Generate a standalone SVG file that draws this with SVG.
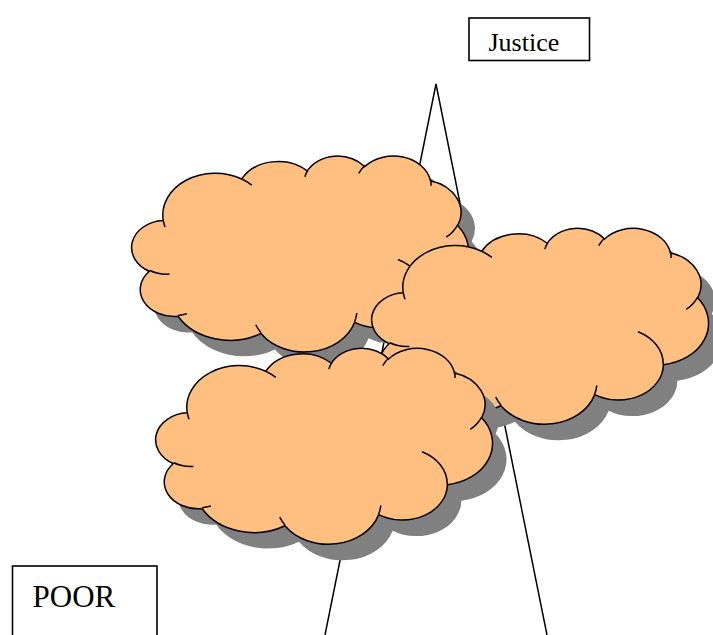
<svg xmlns="http://www.w3.org/2000/svg" xmlns:xlink="http://www.w3.org/1999/xlink" width="713" height="635" viewBox="0 0 713 635">
<style>
  .box { fill: #ffffff; stroke: #000000; stroke-width: 1.6; }
  .label { font-family: "Liberation Serif", "Times New Roman", serif; fill: #000000; }
  .cloud { fill: #FFBF80; stroke: #000000; stroke-width: 1.5; stroke-linejoin: round; }
  .shadow { fill: #808080; stroke: none; }
  .arcs { fill: none; stroke: #000000; stroke-width: 1.5; stroke-linecap: butt; }
  .line { fill: none; stroke: #000000; stroke-width: 1.5; stroke-linejoin: miter; }
</style>
<defs>
  <path id="cloudShape" d="M30.28,65.17 A52.43,41.68 0 0 1 108.73,23.59 A41.40,32.96 0 0 1 174.32,15.55 A33.89,26.96 0 0 1 231.60,11.24 A37.71,29.91 0 0 1 297.47,25.27 A41.40,32.98 0 0 1 324.65,70.10 A52.60,41.81 0 0 1 290.36,136.96 A44.91,35.68 0 0 1 221.66,166.94 A52.42,41.79 0 0 1 127.93,178.07 A59.93,47.81 0 0 1 45.04,160.86 A33.85,26.84 0 0 1 16.40,115.85 A33.73,26.96 0 0 1 30.28,65.17 Z"/>
  <path id="cloudArcs" d="M36.43,118.71 A33.73,26.96 0 0 1 16.76,115.09 M53.79,158.27 A33.85,26.84 0 0 1 45.18,160.00 M127.93,177.27 A52.42,41.79 0 0 1 122.73,169.36 M223.80,157.60 A52.42,41.79 0 0 1 221.72,166.26 M264.96,104.10 A44.91,35.68 0 0 1 290.21,136.45 M324.50,69.63 A41.40,32.98 0 0 1 313.26,81.76 M297.53,24.61 A37.71,29.91 0 0 1 298.13,30.34 M225.75,17.92 A37.71,29.91 0 0 1 231.52,10.61 M171.89,21.41 A33.89,26.96 0 0 1 174.68,15.11 M108.69,23.55 A52.43,41.68 0 0 1 118.79,29.67 M32.04,71.60 A52.43,41.68 0 0 1 30.29,65.18"/>
</defs>
<rect width="713" height="635" fill="#ffffff"/>
<g id="connectors">
  <polyline class="line" points="325,635 436,84 547,635"/>
</g>
<g id="cloud1" transform="translate(133,155.4)">
  <use xlink:href="#cloudShape" class="shadow" transform="translate(14,16)"/>
  <use xlink:href="#cloudShape" class="cloud"/>
  <use xlink:href="#cloudArcs" class="arcs"/>
</g>
<g id="cloud2" transform="translate(373,227.7)">
  <use xlink:href="#cloudShape" class="shadow" transform="translate(14,16)"/>
  <use xlink:href="#cloudShape" class="cloud"/>
  <use xlink:href="#cloudArcs" class="arcs"/>
</g>
<g id="cloud3" transform="translate(157,347.7)">
  <use xlink:href="#cloudShape" class="shadow" transform="translate(14,16)"/>
  <use xlink:href="#cloudShape" class="cloud"/>
  <use xlink:href="#cloudArcs" class="arcs"/>
</g>
<g id="justice">
  <rect class="box" x="469" y="18" width="120.5" height="42.5"/>
  <text class="label" x="488.5" y="50.5" font-size="26">Justice</text>
</g>
<g id="poor">
  <rect class="box" x="12.5" y="566" width="144.5" height="80"/>
  <text class="label" x="32.5" y="606.5" font-size="31">POOR</text>
</g>
</svg>
